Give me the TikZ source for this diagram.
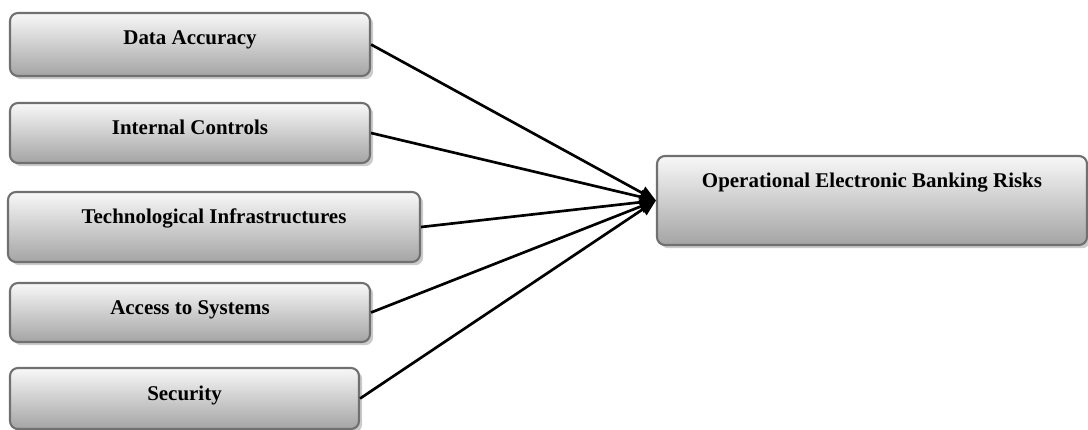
\documentclass[tikz,border=0pt]{standalone}
\usepackage{fontspec}
\setmainfont{Liberation Serif}
\usepackage{tikz}
\usetikzlibrary{arrows.meta}
\usetikzlibrary{shadows}
\definecolor{boxtop}{HTML}{F8F8F8}
\definecolor{boxbot}{HTML}{A4A4A4}
\definecolor{boxline}{HTML}{707070}
\definecolor{boxshade}{HTML}{A8A8A8}
\tikzset{
	riskbox/.style 2 args={draw=boxline, line width=1.5pt, rounded corners=0.2cm,
		top color=boxtop, bottom color=boxbot,
		drop shadow={shadow xshift=0.08cm, shadow yshift=-0.08cm, fill=boxshade, opacity=0.6},
		minimum width=#1, inner xsep=0pt, inner ysep=0pt,
		text height=0.8cm, text depth=#2,
		font=\fontsize{14.9}{17}\selectfont\bfseries},
	link/.style={line width=1.9pt, -{Triangle[length=0.4cm, width=0.34cm]}}
}
\begin{document}
\begin{tikzpicture}
		\useasboundingbox (0,0) rectangle (27.2,-10.75);
		% factors
		\node[riskbox={9cm}{0.775cm}] (acc) at (4.75,-1.1125) {Data Accuracy};
		\node[riskbox={9cm}{0.7cm}] (ctl) at (4.75,-3.325) {Internal Controls};
		\node[riskbox={10.3cm}{0.95cm}] (tec) at (5.35,-5.675) {Technological Infrastructures};
		\node[riskbox={9cm}{0.675cm}] (sys) at (4.75,-7.8125) {Access to Systems};
		\node[riskbox={8.725cm}{0.725cm}] (sec) at (4.6125,-9.9625) {Security};
		% outcome
		\node[riskbox={10.75cm}{1.425cm}] (risk) at (21.8,-5.0125) {Operational Electronic Banking Risks};
		\foreach \f in {acc, ctl, tec, sys, sec}
		\draw[link] (\f.east) -- (risk.west);
\end{tikzpicture}
\end{document}
